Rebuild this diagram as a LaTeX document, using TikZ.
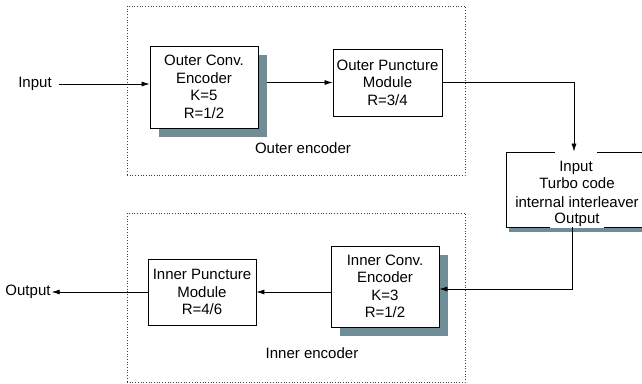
\documentclass[tikz,border=0pt]{standalone}
\usepackage{fontspec}
\setmainfont{Liberation Sans}
\usetikzlibrary{shadows,arrows.meta}
\definecolor{shcol}{RGB}{111,141,150}
\begin{document}
\begin{tikzpicture}[x=1pt,y=-1pt,
  font=\fontsize{15}{17.5}\selectfont,
  blk/.style={draw=black, fill=white, line width=0.8pt, align=center, inner sep=0pt},
  shd/.style={drop shadow={shadow xshift=9pt, shadow yshift=-9pt, fill=shcol, opacity=1}},
  grp/.style={draw=black!75, dotted, line width=0.7pt, inner sep=0pt},
  arr/.style={-{Latex[length=8pt,width=5pt]}, line width=0.7pt},
  lbl/.style={inner sep=0pt},
  tlbl/.style={fill=white, inner xsep=4pt, inner ysep=2pt, text depth=3pt}
]
\useasboundingbox (0,0) rectangle (642,383);
\clip (0,0) rectangle (642,383);
% groups
\node[grp, minimum width=338, minimum height=169] (outerg) at (296,90.5) {};
\node[grp, minimum width=338, minimum height=169] (innerg) at (296,297.5) {};
\node[lbl] (outerlbl) at (303,148) {Outer encoder};
\node[lbl] (innerlbl) at (312,353) {Inner encoder};
% blocks
\node[blk, shd, minimum width=108, minimum height=82] (oce) at (204,87) {Outer Conv.\\Encoder\\K=5\\R=1/2};
\node[blk, minimum width=109, minimum height=67] (opm) at (387.5,82.5) {Outer Puncture\\Module\\R=3/4};
\node[blk, shd, minimum width=108, minimum height=81] (ice) at (385,286.5) {Inner Conv.\\Encoder\\K=3\\R=1/2};
\node[blk, minimum width=108, minimum height=66] (ipm) at (202,292) {Inner Puncture\\Module\\R=4/6};
\node[blk, drop shadow={shadow xshift=3pt, shadow yshift=-5pt, fill=shcol, opacity=1}, minimum width=142, minimum height=75] (tb) at (577,189.5) {};
\node[lbl, align=center] (tbt) at ([yshift=-3pt]tb.center) {Turbo code\\[1.5pt]internal interleaver};
\node[tlbl, anchor=base, text height=19pt] (tin) at (576,171) {Input};
\node[tlbl, anchor=base, text height=12pt] (tout) at (577,223) {Output};
% terminals
\node[lbl] (in) at (35,84) {Input};
\node[lbl, inner sep=1pt] (out) at (28,292) {Output};
% connectors
\draw[arr] ([xshift=7pt]in.east) -- (in.east -| oce.west);
\draw[arr] ([xshift=9pt]oce.east |- opm.west) -- (opm.west);
\draw[arr] (opm.east) -| ([xshift=-3pt]tb.north);
\draw[arr] ([xshift=-5pt]tb.south) |- ([yshift=-2.5pt]ice.east);
\draw[arr] (ice.west |- ipm.east) -- (ipm.east);
\draw[arr] (ipm.west) -- (out.east);
\end{tikzpicture}
\end{document}
